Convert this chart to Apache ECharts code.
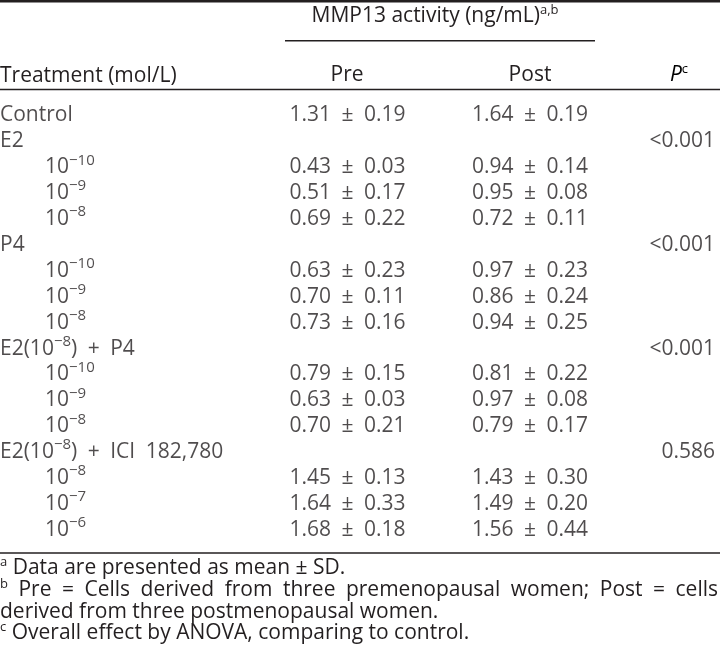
<!DOCTYPE html>
<html><head><meta charset="utf-8">
<script src="https://cdn.jsdelivr.net/npm/echarts@6/dist/echarts.min.js"></script>
<style>html,body{margin:0;padding:0;background:#fff}#c{width:720px;height:657px}</style>
</head><body><div id="c"></div>
<script>
// ---- data ----
const treatments = ['Control','E2','10^{−10}','10^{−9}','10^{−8}','P4','10^{−10}','10^{−9}','10^{−8}',
  'E2(10^{−8}) + P4','10^{−10}','10^{−9}','10^{−8}','E2(10^{−8}) + ICI 182,780','10^{−8}','10^{−7}','10^{−6}'];
const preMean  = [1.31,null,0.43,0.51,0.69,null,0.63,0.70,0.73,null,0.79,0.63,0.70,null,1.45,1.64,1.68];
const preSD    = [0.19,null,0.03,0.17,0.22,null,0.23,0.11,0.16,null,0.15,0.03,0.21,null,0.13,0.33,0.18];
const postMean = [1.64,null,0.94,0.95,0.72,null,0.97,0.86,0.94,null,0.81,0.97,0.79,null,1.43,1.49,1.56];
const postSD   = [0.19,null,0.14,0.08,0.11,null,0.23,0.24,0.25,null,0.22,0.08,0.17,null,0.30,0.20,0.44];
const pValues  = ['','<0.001','','','','<0.001','','','','<0.001','','','','0.586','','',''];
const headerGroup = 'MMP13 activity (ng/mL)^{a,b}';
const headerCols = ['Treatment (mol/L)','Pre','Post'];
const footnotes = [
  '^{a} Data are presented as mean ± SD.',
  '^{b} Pre = Cells derived from three premenopausal women; Post = cells',
  'derived from three postmenopausal women.',
  '^{c} Overall effect by ANOVA, comparing to control.'
];

// ---- layout / style ----
const FONT = 'Open Sans';
const INK = '#231f20';
const FS = 21;
const SUP = 15;
const FSUP = 13;
const L = { treatX: 0, indentX: 45, preX: 347.5, postX: 530, pX: 715 };
const rich = {
  n:   { fontFamily: FONT, fontSize: FS, color: INK, lineHeight: 26, verticalAlign: 'bottom' },
  sup: { fontFamily: FONT, fontSize: SUP, color: INK, lineHeight: 26, verticalAlign: 'bottom', padding: [0, 0, 10, 0] },
  fs:  { fontFamily: FONT, fontSize: FSUP, color: INK, lineHeight: 26, verticalAlign: 'bottom', padding: [0, 0, 10, 0] },
  it:  { fontFamily: FONT, fontSize: FS, color: INK, fontStyle: 'italic', lineHeight: 26, verticalAlign: 'bottom' }
};
function toRich(s, supStyle) {
  const st = supStyle || 'sup';
  return ('{n|' + s.replace(/\^\{([^}]*)\}/g, '}{' + st + '|$1}{n|') + '}').replace(/\{n\|\}/g, '');
}
const SP = '\u2002';
const fmt = (m, s) => m == null ? '' : toRich(m.toFixed(2) + SP + '±' + SP + s.toFixed(2));
const wide = s => s.replace(' + ', SP + '+' + SP).replace('ICI ', 'ICI' + SP);

const treatData = treatments.map((t, i) => [t.startsWith('10') ? L.indentX : L.treatX, i, toRich(wide(t))]);
const preData = preMean.map((m, i) => [L.preX, i, fmt(m, preSD[i])]);
const postData = postMean.map((m, i) => [L.postX, i, fmt(m, postSD[i])]);
const pData = pValues.map((p, i) => [L.pX, i, p ? toRich(p) : '']);

function cellSeries(data, align) {
  return {
    type: 'scatter', data, symbolSize: 0, silent: true,
    label: { show: true, position: 'inside', align, verticalAlign: 'middle',
      formatter: p => p.data[2], rich, fontFamily: FONT, fontSize: FS, color: INK }
  };
}
function txt(x, y, s, align, supStyle) {
  return { type: 'text', x, y, style: { text: toRich(s, supStyle), rich, align, verticalAlign: 'middle',
    fontFamily: FONT, fontSize: FS, fill: INK } };
}
function rule(x1, x2, y, w) {
  return { type: 'line', shape: { x1, y1: y, x2, y2: y }, style: { stroke: INK, lineWidth: w } };
}
// justified footnote line: words spread between x0 and x1
const ctx = document.createElement('canvas').getContext('2d');
function measure(s, size) { ctx.font = size + 'px "' + FONT + '"'; return ctx.measureText(s).width; }
function justified(s, y, x0, x1) {
  const words = s.split(' ');
  const widths = words.map(w => {
    const m = w.match(/^\^\{([^}]*)\}$/);
    return m ? measure(m[1], FSUP) : measure(w, FS);
  });
  const total = widths.reduce((a, b) => a + b, 0);
  const gap = (x1 - x0 - total) / (words.length - 1);
  let x = x0; const out = [];
  words.forEach((w, i) => { out.push(txt(x, y, w, 'left', 'fs')); x += widths[i] + gap; });
  return out;
}

const ROW = 25.9;
const FIRST = 113;
const chart = echarts.init(document.getElementById('c'), null, { renderer: 'canvas' });
chart.setOption({
  animation: false,
  grid: { left: 0, right: 0, top: FIRST - ROW / 2, height: ROW * treatments.length },
  xAxis: { type: 'value', min: 0, max: 720, show: false },
  yAxis: { type: 'value', min: -0.5, max: treatments.length - 0.5, inverse: true, show: false },
  series: [cellSeries(treatData, 'left'), cellSeries(preData, 'center'),
           cellSeries(postData, 'center'), cellSeries(pData, 'right')],
  graphic: [
    rule(0, 720, 1.2, 2.4),
    txt(435, 14, headerGroup, 'center', 'fs'),
    rule(285, 595, 40.7, 1.4),
    txt(0, 74, headerCols[0], 'left'),
    txt(347, 73, headerCols[1], 'center'),
    txt(530, 73, headerCols[2], 'center'),
    { type: 'text', x: 679, y: 73, style: { text: '{it|P}{fs|c}', rich, align: 'center', verticalAlign: 'middle' } },
    rule(0, 720, 89.5, 1.4),
    rule(0, 720, 553, 1.5),
    txt(0, 566, footnotes[0], 'left', 'fs'),
    ...justified(footnotes[1], 588, 0, 718),
    txt(0, 610, footnotes[2], 'left', 'fs'),
    txt(0, 631, footnotes[3], 'left', 'fs')
  ]
});
</script></body></html>
